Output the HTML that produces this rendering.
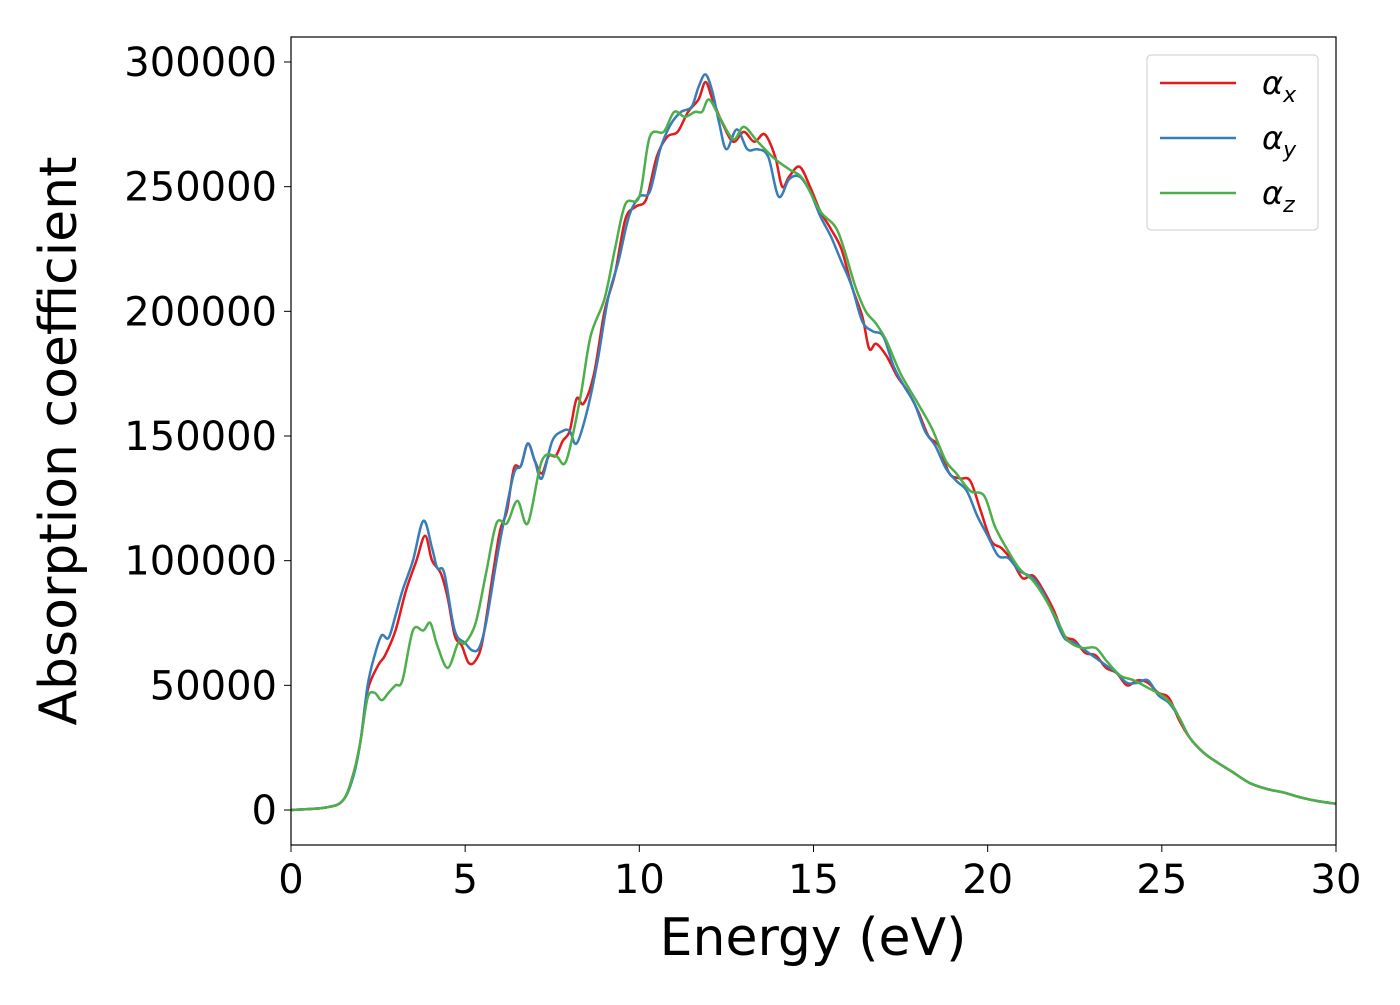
<!DOCTYPE html>
<html><head><meta charset="utf-8"><style>
body{margin:0;background:#fff;}
svg text{font-family:"DejaVu Sans","Liberation Sans",sans-serif;}
</style></head><body>
<svg id="chart" width="1400" height="1000" xmlns="http://www.w3.org/2000/svg">
<rect width="1400" height="1000" fill="#fff"/>
<g id="series"></g>
<rect x="291" y="37" width="1045" height="808" fill="none" stroke="#000" stroke-width="1.2"/>
<g id="xt"></g>
<g id="yt"></g>
<text x="813" y="955" font-size="52" text-anchor="middle">Energy (eV)</text>
<text transform="translate(76,441) rotate(-90)" font-size="52" text-anchor="middle">Absorption coefficient</text>
<g>
<rect x="1147" y="55" width="171" height="175" rx="4" fill="#fff" stroke="#ccc" stroke-width="1"/>
<line x1="1160" y1="83" x2="1236" y2="83" stroke="#e41a1c" stroke-width="2.5"/>
<text x="1262" y="94" font-size="32" font-style="italic">α<tspan font-size="22" dy="8">x</tspan></text>
<line x1="1160" y1="138" x2="1236" y2="138" stroke="#377eb8" stroke-width="2.5"/>
<text x="1262" y="149" font-size="32" font-style="italic">α<tspan font-size="22" dy="8">y</tspan></text>
<line x1="1160" y1="193" x2="1236" y2="193" stroke="#4daf4a" stroke-width="2.5"/>
<text x="1262" y="204" font-size="32" font-style="italic">α<tspan font-size="22" dy="8">z</tspan></text>
</g>
</svg>
<script>
const xTicks=[0,5,10,15,20,25,30];
const yTicks=[0,50000,100000,150000,200000,250000,300000];
const tail=[[25.8,29000],[26.2,23000],[26.6,19000],[27.0,15500],[27.5,11000],[28.0,8500],[28.5,7000],[29.0,5000],[29.5,3500],[30,2500]];
const alphaX=[[0,0],[1,1000],[1.5,4000],[1.8,15000],[2.0,28000],[2.2,48000],[2.5,58000],[2.7,62000],[3.0,72000],[3.3,88000],[3.6,100000],[3.85,110000],[4.05,100000],[4.3,95000],[4.5,85000],[4.7,70000],[4.9,66000],[5.1,59000],[5.3,60000],[5.5,68000],[5.8,95000],[6.0,112000],[6.2,120000],[6.4,137000],[6.6,138000],[6.8,147000],[7.0,140000],[7.2,135000],[7.4,142000],[7.6,142000],[7.8,148000],[8.0,152000],[8.2,165000],[8.4,163000],[8.7,175000],[9.0,200000],[9.3,215000],[9.6,237000],[9.9,242000],[10.2,245000],[10.5,262000],[10.8,270000],[11.1,272000],[11.4,280000],[11.7,285000],[11.9,292000],[12.1,285000],[12.4,275000],[12.7,268000],[13.0,272000],[13.3,268000],[13.6,271000],[13.9,262000],[14.1,250000],[14.3,254000],[14.6,258000],[14.9,250000],[15.2,240000],[15.5,233000],[15.8,225000],[16.1,210000],[16.4,198000],[16.6,185000],[16.8,187000],[17.1,182000],[17.4,174000],[17.7,168000],[18.0,160000],[18.3,150000],[18.6,146000],[18.9,135000],[19.2,133000],[19.5,132000],[19.8,120000],[20.1,108000],[20.4,105000],[20.7,100000],[21.0,93000],[21.3,94000],[21.6,88000],[21.9,80000],[22.2,70000],[22.5,68000],[22.8,63000],[23.1,62000],[23.4,57000],[23.7,55000],[24.0,50000],[24.3,52000],[24.6,51000],[24.9,47000],[25.2,45000],[25.5,36000]].concat(tail);
const alphaY=[[0,0],[1,1000],[1.5,4000],[1.8,14000],[2.0,28000],[2.2,50000],[2.4,62000],[2.6,70000],[2.8,69000],[3.0,78000],[3.2,88000],[3.5,100000],[3.8,116000],[4.05,105000],[4.2,97000],[4.4,95000],[4.7,72000],[5.0,67000],[5.2,64000],[5.4,65000],[5.6,75000],[5.9,100000],[6.1,115000],[6.4,135000],[6.6,138000],[6.8,147000],[7.0,140000],[7.2,133000],[7.5,148000],[7.8,152000],[8.0,152000],[8.2,147000],[8.5,160000],[8.8,180000],[9.1,205000],[9.4,220000],[9.7,238000],[10.0,246000],[10.3,248000],[10.6,265000],[10.9,275000],[11.2,280000],[11.5,282000],[11.7,290000],[11.9,295000],[12.1,288000],[12.3,275000],[12.5,265000],[12.8,273000],[13.1,265000],[13.4,265000],[13.7,262000],[14.0,246000],[14.3,253000],[14.6,254000],[14.9,248000],[15.2,238000],[15.5,230000],[15.8,220000],[16.1,210000],[16.4,196000],[16.7,192000],[17.0,190000],[17.3,178000],[17.6,170000],[17.9,163000],[18.2,152000],[18.5,146000],[18.8,137000],[19.1,132000],[19.4,128000],[19.7,118000],[20.0,110000],[20.3,102000],[20.6,101000],[20.9,96000],[21.3,93000],[21.6,87000],[21.9,78000],[22.2,69000],[22.5,67000],[22.8,64000],[23.1,61000],[23.4,58000],[23.7,55000],[24.0,51000],[24.3,51000],[24.6,52000],[24.9,46000],[25.2,43000],[25.5,37000]].concat(tail);
const alphaZ=[[0,0],[1,1000],[1.5,4000],[1.8,15000],[2.0,28000],[2.2,45000],[2.4,47000],[2.6,44000],[2.8,47000],[3.0,50000],[3.2,52000],[3.5,72000],[3.8,72000],[4.0,75000],[4.2,66000],[4.5,57000],[4.8,67000],[5.0,67000],[5.3,75000],[5.6,95000],[5.9,115000],[6.2,115000],[6.5,124000],[6.8,115000],[7.2,140000],[7.6,142000],[7.9,140000],[8.3,165000],[8.6,190000],[9.0,205000],[9.3,225000],[9.6,243000],[10.0,246000],[10.3,270000],[10.7,272000],[11.0,280000],[11.3,278000],[11.6,280000],[11.8,280000],[12.0,285000],[12.3,278000],[12.7,269000],[13.0,274000],[13.4,268000],[13.9,261000],[14.3,257000],[14.7,253000],[15.2,240000],[15.7,232000],[16.2,210000],[16.5,200000],[16.8,195000],[17.1,188000],[17.5,175000],[18.0,163000],[18.4,153000],[18.8,140000],[19.1,135000],[19.5,128000],[19.9,126000],[20.2,114000],[20.5,106000],[20.9,97000],[21.3,92000],[21.6,86000],[22.0,76000],[22.3,68000],[22.7,65000],[23.1,65000],[23.4,60000],[23.8,54000],[24.2,52000],[24.6,49000],[25.0,46000],[25.3,42000],[25.5,37000]].concat(tail);
const NS="http://www.w3.org/2000/svg";
const X0=291,X1=1336,Y0=810,Y300=62;
function sx(v){return X0+(v/30)*(X1-X0);}
function sy(v){return Y0-(v/300000)*(Y0-Y300);}
function pathFor(d){
  const p=d.map(a=>[sx(a[0]),sy(a[1])]);
  let s="M"+p[0][0]+","+p[0][1];
  for(let i=0;i<p.length-1;i++){
    const a=p[Math.max(0,i-1)],b=p[i],c=p[i+1],e=p[Math.min(p.length-1,i+2)];
    const c1=[b[0]+(c[0]-a[0])/6,b[1]+(c[1]-a[1])/6],c2=[c[0]-(e[0]-b[0])/6,c[1]-(e[1]-b[1])/6];
    s+=" C"+c1+" "+c2+" "+c;
  }
  return s;
}
const g=document.getElementById("series");
[[alphaX,"#e41a1c","series-alpha-x"],[alphaY,"#377eb8","series-alpha-y"],[alphaZ,"#4daf4a","series-alpha-z"]].forEach(s=>{
  const p=document.createElementNS(NS,"path");
  p.setAttribute("d",pathFor(s[0]));
  p.setAttribute("fill","none");p.setAttribute("stroke",s[1]);p.setAttribute("stroke-width","2.5");
  
  
  g.appendChild(p);
});
const xt=document.getElementById("xt");
xTicks.forEach(v=>{
  const l=document.createElementNS(NS,"line");
  l.setAttribute("x1",sx(v));l.setAttribute("x2",sx(v));l.setAttribute("y1",845);l.setAttribute("y2",852);l.setAttribute("stroke","#000");
  
  
  xt.appendChild(l);
  const t=document.createElementNS(NS,"text");
  t.setAttribute("x",sx(v));t.setAttribute("y",893);t.setAttribute("font-size","40");t.setAttribute("text-anchor","middle");
  t.textContent=v;
  
  
  xt.appendChild(t);
});
const yt=document.getElementById("yt");
yTicks.forEach(v=>{
  const l=document.createElementNS(NS,"line");
  l.setAttribute("x1",284);l.setAttribute("x2",291);l.setAttribute("y1",sy(v));l.setAttribute("y2",sy(v));l.setAttribute("stroke","#000");
  
  
  yt.appendChild(l);
  const t=document.createElementNS(NS,"text");
  t.setAttribute("x",277);t.setAttribute("y",sy(v)+14);t.setAttribute("font-size","40");t.setAttribute("text-anchor","end");
  t.textContent=v;
  
  
  yt.appendChild(t);
});
</script>
</body></html>
